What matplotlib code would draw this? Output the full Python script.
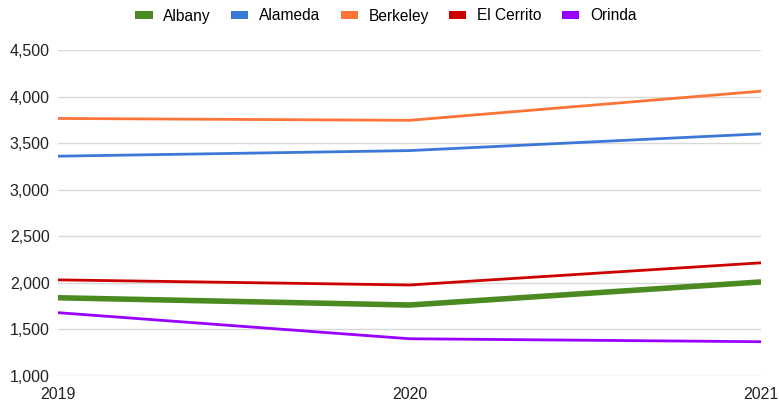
import matplotlib.pyplot as plt
from matplotlib.patches import Patch
from matplotlib.ticker import FuncFormatter

plt.rcParams['font.family'] = ['Liberation Sans', 'DejaVu Sans']

years = [2019, 2020, 2021]
albany = [1840, 1762, 2010]
alameda = [3360, 3420, 3600]
berkeley = [3765, 3745, 4058]
el_cerrito = [2032, 1977, 2215]
orinda = [1680, 1400, 1368]

series = [
    ("Albany", albany, "#4a8a21", 4.0),
    ("Alameda", alameda, "#3c78d8", 2.0),
    ("Berkeley", berkeley, "#ff7438", 2.0),
    ("El Cerrito", el_cerrito, "#cc0000", 2.0),
    ("Orinda", orinda, "#9900ff", 2.0),
]

fig = plt.figure(figsize=(7.79, 4.05), dpi=100)
ax = fig.add_axes([58 / 779, 29 / 405, (761 - 58) / 779, (376 - 50) / 405])

for name, vals, color, lw in series:
    ax.plot(years, vals, color=color, lw=lw, solid_capstyle='butt', zorder=3)

ax.set_xlim(2019, 2021)
ax.set_ylim(1000, 4500)
ax.set_yticks(range(1000, 4501, 500))
ax.yaxis.set_major_formatter(FuncFormatter(lambda v, p: f"{int(v):,}"))
ax.set_xticks(years)
ax.grid(axis='y', color='#d9d9d9', lw=1)
ax.set_axisbelow(True)
for s in ax.spines.values():
    s.set_visible(False)
ax.tick_params(axis='both', length=0, labelsize=11.5, colors='#222222')
ax.tick_params(axis='y', pad=6)
ax.tick_params(axis='x', pad=8)

handles = [Patch(facecolor=c, edgecolor='none', label=n) for n, _, c, _ in series]
fig.legend(handles=handles, loc='center', bbox_to_anchor=(386 / 779, 1 - 16 / 405),
           ncol=5, frameon=False, fontsize=11.2, handlelength=1.1, handleheight=0.4,
           handletextpad=0.7, columnspacing=1.3)

fig.savefig("out.png", dpi=100)
